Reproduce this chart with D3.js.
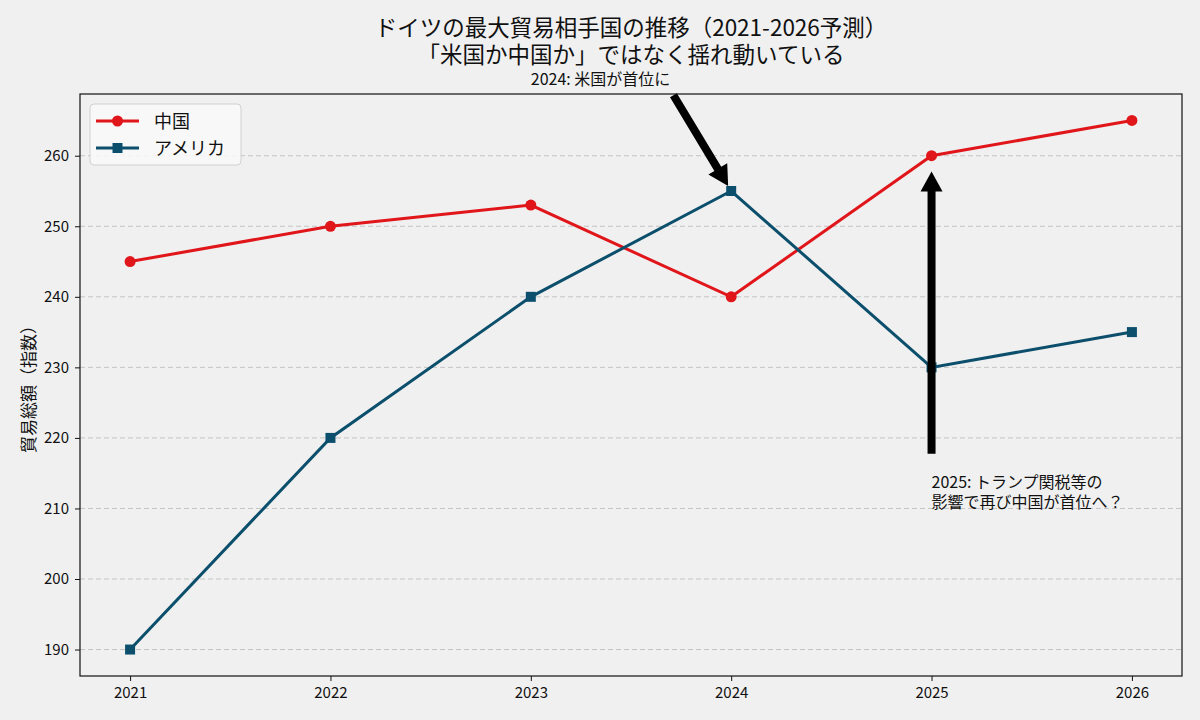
<!DOCTYPE html>
<html>
<head>
<meta charset="utf-8">
<script src="https://cdn.jsdelivr.net/npm/d3@7"></script>
<style>
  body { margin: 0; background: #f0f0f0; }
  svg { display: block; }
  text { font-family: "Noto Sans CJK JP", "Noto Sans", sans-serif; fill: #111; }
</style>
</head>
<body>
<div id="paper"></div>
<script>
// data
const years = [2021, 2022, 2023, 2024, 2025, 2026];
const china = [245, 250, 253, 240, 260, 265];
const usa = [190, 220, 240, 255, 230, 235];
const yTicks = [190, 200, 210, 220, 230, 240, 250, 260];

const seriesNames = ["中国", "アメリカ"];
const seriesColours = ["#e0161a", "#0b4f6c"];

const titleLines = ["ドイツの最大貿易相手国の推移（2021-2026予測）", "「米国か中国か」ではなく揺れ動いている"];
const yLabel = "貿易総額（指数）";

// annotations: text position and target point, both in data units
const noteTexts = [["2024: 米国が首位に"], ["2025: トランプ関税等の", "影響で再び中国が首位へ？"]];
const noteTextX = [2023, 2025];
const noteTextY = [270, 210];
const noteX = [2024, 2025];
const noteY = [255, 260];

const W = 1200, H = 720;
const margin = { top: 94, right: 18, bottom: 44, left: 80 };

const svg = d3.select("#paper").append("svg")
  .attr("width", W).attr("height", H)
  .style("background-color", "#f0f0f0");

// matplotlib-like 5% margins
const xPad = (d3.max(years) - d3.min(years)) * 0.05;
const yMin = d3.min([...china, ...usa]), yMax = d3.max([...china, ...usa]);
const yPad = (yMax - yMin) * 0.05;

const x = d3.scaleLinear()
  .domain([d3.min(years) - xPad, d3.max(years) + xPad])
  .range([margin.left, W - margin.right]);
const y = d3.scaleLinear()
  .domain([yMin - yPad, yMax + yPad])
  .range([H - margin.bottom, margin.top]);

// grid
svg.append("g")
  .selectAll("line")
  .data(yTicks)
  .join("line")
  .attr("x1", margin.left).attr("x2", W - margin.right)
  .attr("y1", d => y(d)).attr("y2", d => y(d))
  .attr("stroke", "#c4c4c4")
  .attr("stroke-width", 1)
  .attr("stroke-dasharray", "5,3");

// axes
const xAxis = svg.append("g")
  .attr("transform", `translate(0,${H - margin.bottom})`)
  .call(d3.axisBottom(x).tickValues(years).tickFormat(d3.format("d")).tickSize(5).tickPadding(6));
const yAxis = svg.append("g")
  .attr("transform", `translate(${margin.left},0)`)
  .call(d3.axisLeft(y).tickValues(yTicks).tickSize(5).tickPadding(6));
[xAxis, yAxis].forEach(a => {
  a.select(".domain").remove();
  a.selectAll("line").attr("stroke", "#111");
  a.selectAll("text").style("font-size", "15px").attr("fill", "#111");
});

// frame
svg.append("rect")
  .attr("x", margin.left).attr("y", margin.top)
  .attr("width", W - margin.left - margin.right)
  .attr("height", H - margin.top - margin.bottom)
  .attr("fill", "none").attr("stroke", "#111").attr("stroke-width", 1.2);

// lines
const line = d3.line().x((d, i) => x(years[i])).y(d => y(d));
[china, usa].forEach((vals, k) => {
  svg.append("path")
    .datum(vals)
    .attr("d", line)
    .attr("fill", "none")
    .attr("stroke", seriesColours[k])
    .attr("stroke-width", 3);
});
svg.append("g").selectAll("circle")
  .data(china)
  .join("circle")
  .attr("cx", (d, i) => x(years[i])).attr("cy", d => y(d))
  .attr("r", 5.5).attr("fill", seriesColours[0]);
svg.append("g").selectAll("rect")
  .data(usa)
  .join("rect")
  .attr("x", (d, i) => x(years[i]) - 5).attr("y", d => y(d) - 5)
  .attr("width", 10).attr("height", 10).attr("fill", seriesColours[1]);

// annotations
function arrowPath(x0, y0, x1, y1) {
  const w = 4, hw = 11, hl = 20;
  const dx = x1 - x0, dy = y1 - y0, len = Math.hypot(dx, dy);
  const ux = dx / len, uy = dy / len, nx = -uy, ny = ux;
  const bx = x1 - ux * hl, by = y1 - uy * hl;
  const pts = [
    [x0 + nx * w, y0 + ny * w], [bx + nx * w, by + ny * w], [bx + nx * hw, by + ny * hw],
    [x1, y1],
    [bx - nx * hw, by - ny * hw], [bx - nx * w, by - ny * w], [x0 - nx * w, y0 - ny * w]
  ];
  return "M" + pts.map(p => p.join(",")).join("L") + "Z";
}

noteTexts.forEach((lines, k) => {
  const tx = x(noteTextX[k]), ty = y(noteTextY[k]);
  const t = svg.append("text")
    .attr("x", tx).attr("y", ty)
    .style("font-size", "16px");
  lines.forEach((s, j) => {
    t.append("tspan")
      .attr("x", tx)
      .attr("y", ty - (lines.length - 1 - j) * 20)
      .text(s);
  });
  const bb = t.node().getBBox();
  const px = x(noteX[k]), py = y(noteY[k]);
  // closest bbox corner/edge-midpoint to target, like matplotlib
  const rel = v => [0, 0.5, 1].reduce((a, b) => Math.abs(b - v) < Math.abs(a - v) ? b : a);
  const sx = bb.x + bb.width * rel((px - bb.x) / bb.width);
  const sy = bb.y + bb.height * rel((py - bb.y) / bb.height);
  const shrink = 0.05;
  const dx = px - sx, dy = py - sy;
  svg.append("path")
    .attr("d", arrowPath(sx + dx * shrink, sy + dy * shrink, px - dx * shrink, py - dy * shrink))
    .attr("fill", "#000");
});

// titles
svg.append("g").selectAll("text")
  .data(titleLines)
  .join("text")
  .attr("x", (margin.left + W - margin.right) / 2)
  .attr("y", (d, i) => 36 + i * 27)
  .attr("text-anchor", "middle")
  .style("font-size", "22.5px")
  .text(d => d);

svg.append("text")
  .attr("transform", `translate(35,${(margin.top + H - margin.bottom) / 2}) rotate(-90)`)
  .attr("text-anchor", "middle")
  .style("font-size", "17px")
  .text(yLabel);

// legend
const lg = svg.append("g").attr("transform", `translate(${margin.left + 10},${margin.top + 10})`);
lg.append("rect")
  .attr("width", 151).attr("height", 61).attr("rx", 4)
  .attr("fill", "#f8f8f8").attr("fill-opacity", 0.9)
  .attr("stroke", "#d0d0d0");
seriesNames.forEach((name, k) => {
  const cy = 17 + k * 27;
  lg.append("line")
    .attr("x1", 6).attr("x2", 49).attr("y1", cy).attr("y2", cy)
    .attr("stroke", seriesColours[k]).attr("stroke-width", 3);
  if (k === 0) {
    lg.append("circle").attr("cx", 27.5).attr("cy", cy).attr("r", 5.5).attr("fill", seriesColours[k]);
  } else {
    lg.append("rect").attr("x", 22.5).attr("y", cy - 5).attr("width", 10).attr("height", 10).attr("fill", seriesColours[k]);
  }
  lg.append("text")
    .attr("x", 64).attr("y", cy + 6.5)
    .style("font-size", "18px")
    .text(name);
});
</script>
</body>
</html>
